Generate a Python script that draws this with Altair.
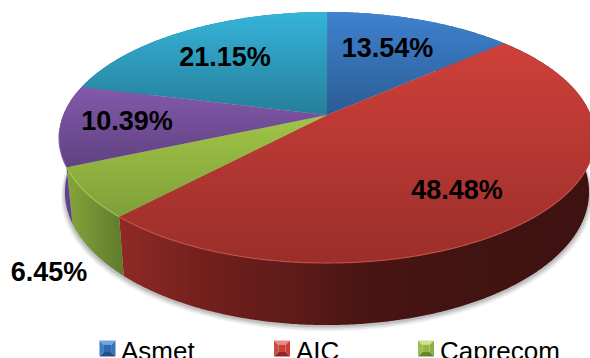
import math
import altair as alt

# Chart values
names = ["Asmet", "AIC", "Caprecom", "Otros", "Resto"]
shares = [13.54, 48.48, 6.45, 10.39, 21.15]
share_labels = ["13.54%", "48.48%", "6.45%", "10.39%", "21.15%"]
legend_names = ["Asmet", "AIC", "Caprecom"]

# Label anchors in pixels
label_x = [387.5, 457, 49, 127, 225]
label_y = [49, 191, 273, 122, 58]

# Disc geometry: perspective view of a tilted circle
CX, APEX_Y = 327.0, 115.0
TILT = 0.1793
A_X, A_Y = 263.7, 121.5
TOP_CY, TOP_RX, TOP_RY = 137.5, 268.0, 125.5
BASE_CY, BASE_RX, BASE_RY = 192.0, 262.0, 133.0


def rim(deg):
    """Project a clockwise-from-north disc angle on to the upper rim."""
    t = math.radians(deg)
    u, v = math.sin(t), math.cos(t)
    d = 1 + TILT * v
    return [CX + A_X * u / d, APEX_Y - A_Y * v / d]


def base(deg):
    """Matching point on the lower rim, same ellipse parameter as the upper one."""
    x, y = rim(deg)
    cu = max(-1.0, min(1.0, (x - CX) / TOP_RX))
    cv = (y - TOP_CY) / TOP_RY
    return [CX + BASE_RX * cu, BASE_CY + BASE_RY * cv]


def sweep(a, b, fn):
    n = max(2, int(abs(b - a) * 2))
    return [fn(a + (b - a) * i / n) for i in range(n + 1)]


def feature(kind, coords):
    geom = {"type": kind, "coordinates": coords}
    return {"type": "Feature", "geometry": geom, "properties": {}}


def gradient(stops, horizontal=False):
    return alt.LinearGradient(
        gradient="linear",
        x1=0, y1=0,
        x2=1 if horizontal else 0,
        y2=0 if horizontal else 1,
        stops=[alt.GradientStop(offset=o, color=c) for o, c in stops],
    )


bounds = []
acc = 0.0
for s in shares:
    bounds.append((acc * 3.6, (acc + s) * 3.6))
    acc += s

top_fills = [
    gradient([(0, "#3f82cf"), (1, "#2b5c94")]),
    gradient([(0, "#cf403a"), (1, "#9b2e2a")]),
    gradient([(0, "#a0c546"), (1, "#7f9f39")]),
    gradient([(0, "#8459ac"), (1, "#5f4180")]),
    gradient([(0, "#35b4da"), (1, "#267e98")]),
]
wall_fills = [
    "#2b5c94",
    gradient([(0, "#8f2a26"), (0.17, "#74201d"), (0.38, "#5c1b18"),
              (0.5, "#4a1513"), (0.7, "#421311"), (1, "#3d1210")], horizontal=True),
    gradient([(0, "#86a53c"), (1, "#5e7a2b")], horizontal=True),
    gradient([(0, "#6a45a0"), (1, "#4f3478")], horizontal=True),
    "#267e98",
]
rim_colors = [None, "#c9534c", "#a9cc55", "#8a63b4", None]


def shape(feat, **mark):
    return (
        alt.Chart(alt.Data(values=[feat]))
        .mark_geoshape(**mark)
        .project(type="identity", scale=1, translate=[0, 0])
    )


layers = []

# Soft contact shadow beneath the disc
for grow, drop, alpha in [(4, 5, 0.07), (3, 4, 0.09), (2, 3, 0.12), (1, 2, 0.16)]:
    ring = [[CX + (BASE_RX + grow) * math.cos(math.radians(d)),
             BASE_CY + drop + (BASE_RY + grow * 0.3) * math.sin(math.radians(d))]
            for d in range(0, 361, 1)]
    layers.append(shape(feature("Polygon", [ring]), fill="#555555", fillOpacity=alpha, stroke=None))

# Side walls, then the upper faces over them
for (a, b), fill in zip(bounds, wall_fills):
    outline = sweep(a, b, rim) + sweep(b, a, base)
    outline.append(outline[0])
    layers.append(shape(feature("Polygon", [outline]), fill=fill, stroke=None))

for (a, b), fill in zip(bounds, top_fills):
    outline = [[CX, APEX_Y]] + sweep(a, b, rim) + [[CX, APEX_Y]]
    layers.append(shape(feature("Polygon", [outline]), fill=fill, stroke=None))

# Light bevel along the front of the upper rim
for (a, b), col in zip(bounds, rim_colors):
    if col is None:
        continue
    start = max(a, 108.0)
    end = min(b, 262.0)
    layers.append(shape(feature("LineString", sweep(start, end, rim)),
                        filled=False, stroke=col, strokeWidth=1.2, strokeOpacity=0.8))

# Percentage labels
for text, x, y in zip(share_labels, label_x, label_y):
    layers.append(
        alt.Chart(alt.Data(values=[{"t": text}])).mark_text(
            font="Liberation Sans", fontSize=27, fontWeight="bold", color="#000000",
            align="center", baseline="middle",
        ).encode(text="t:N", x=alt.value(x), y=alt.value(y))
    )

# Legend keys: bevelled squares made of four trapezoids and a face
BEVEL_TOP = "M-1,-1L1,-1L0.45,-0.45L-0.45,-0.45Z"
BEVEL_RIGHT = "M1,-1L1,1L0.45,0.45L0.45,-0.45Z"
BEVEL_BOTTOM = "M1,1L-1,1L-0.45,0.45L0.45,0.45Z"
BEVEL_LEFT = "M-1,1L-1,-1L-0.45,-0.45L-0.45,0.45Z"
BEVEL_FACE = "M-0.45,-0.45L0.45,-0.45L0.45,0.45L-0.45,0.45Z"

key_x = [107.5, 282, 426]
key_y = 348.5
key_size = 16 ** 2
text_x = [121, 296, 440]
key_colors = [
    ["#6ea6e6", "#3a72b4", "#1f4f88", "#3f7cc0", "#2f6aac"],
    ["#ef8a80", "#c63f3a", "#8e2622", "#d04a44", "#c8403a"],
    ["#cfe28c", "#8cae42", "#66842a", "#9cbc4e", "#93b545"],
]
paths = [BEVEL_TOP, BEVEL_RIGHT, BEVEL_BOTTOM, BEVEL_LEFT, BEVEL_FACE]

for name, kx, tx, cols in zip(legend_names, key_x, text_x, key_colors):
    for path, col in zip(paths, cols):
        layers.append(
            alt.Chart(alt.Data(values=[{"n": name}])).mark_point(
                shape=path, filled=True, fill=col, opacity=1, size=key_size,
            ).encode(x=alt.value(kx), y=alt.value(key_y))
        )
    layers.append(
        alt.Chart(alt.Data(values=[{"n": name}])).mark_text(
            font="Liberation Sans", fontSize=26, color="#000000",
            align="left", baseline="alphabetic",
        ).encode(text="n:N", x=alt.value(tx), y=alt.value(360))
    )

chart = alt.layer(*layers).properties(
    width=590, height=358, padding=0, autosize=alt.AutoSizeParams(type="none"),
    background="#ffffff",
).configure_view(stroke=None)

chart.save("out.html", embed_options={"renderer": "svg", "actions": False})
